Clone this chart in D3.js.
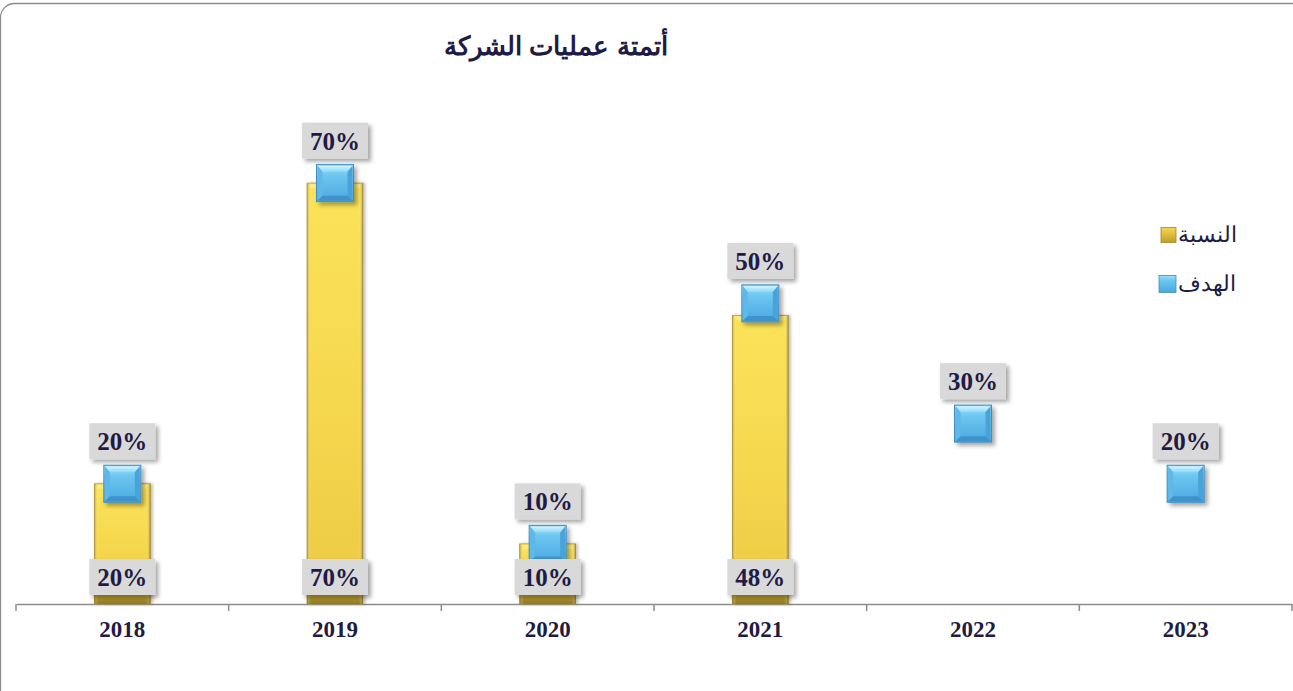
<!DOCTYPE html>
<html><head><meta charset="utf-8">
<script src="https://cdn.jsdelivr.net/npm/d3@7"></script>
<style>html,body{margin:0;padding:0;background:#fff;}svg{display:block;}</style>
</head><body>
<svg id="c" width="1293" height="691"></svg>
<script>
const categories = ["2018","2019","2020","2021","2022","2023"];
const actualValues = [0.20, 0.70, 0.10, 0.48, null, null];
const targetValues = [0.20, 0.70, 0.10, 0.50, 0.30, 0.20];
const titleText = "أتمتة عمليات الشركة";
const seriesNames = ["النسبة", "الهدف"];

const svg = d3.select("#c");
const defs = svg.append("defs");
const textColor = "#1f1b45";

const gBar = defs.append("linearGradient").attr("id","gBar").attr("x1",0).attr("y1",0).attr("x2",0).attr("y2",1);
[["0%","#fbe35a"],["50%","#f6d84e"],["100%","#ecc943"]].forEach(s=>gBar.append("stop").attr("offset",s[0]).attr("stop-color",s[1]));
const gBarH = defs.append("linearGradient").attr("id","gBarH").attr("x1",0).attr("y1",0).attr("x2",1).attr("y2",0);
[["0%","#9a7e1a",0.6],["7%","#ffffff",0],["93%","#ffffff",0],["100%","#7a6412",0.7]].forEach(s=>gBarH.append("stop").attr("offset",s[0]).attr("stop-color",s[1]).attr("stop-opacity",s[2]));
const gBarB = defs.append("linearGradient").attr("id","gBarB").attr("x1",0).attr("y1",0).attr("x2",0).attr("y2",1);
[["0%","#b89a30",0],["40%","#b09530",0.8],["100%","#8e7722",1]].forEach(s=>gBarB.append("stop").attr("offset",s[0]).attr("stop-color",s[1]).attr("stop-opacity",s[2]));

const gMk = defs.append("linearGradient").attr("id","gMk").attr("x1",0).attr("y1",0).attr("x2",0).attr("y2",1);
[["0%","#9ee0fa"],["30%","#6cc6f0"],["100%","#4aa8e0"]].forEach(s=>gMk.append("stop").attr("offset",s[0]).attr("stop-color",s[1]));
const gMkTop = defs.append("linearGradient").attr("id","gMkTop").attr("x1",0).attr("y1",0).attr("x2",0).attr("y2",1);
[["0%","#d4f3ff"],["100%","#8fd8f6"]].forEach(s=>gMkTop.append("stop").attr("offset",s[0]).attr("stop-color",s[1]));

const gLeg1 = defs.append("linearGradient").attr("id","gLeg1").attr("x1",0).attr("y1",0).attr("x2",0).attr("y2",1);
[["0%","#f5d850"],["100%","#c29e28"]].forEach(s=>gLeg1.append("stop").attr("offset",s[0]).attr("stop-color",s[1]));

const sh = defs.append("filter").attr("id","sh").attr("x","-30%").attr("y","-30%").attr("width","160%").attr("height","170%");
sh.append("feDropShadow").attr("dx",3).attr("dy",3).attr("stdDeviation",2.2).attr("flood-color","#000").attr("flood-opacity",0.35);
const shB = defs.append("filter").attr("id","shB").attr("x","-20%").attr("y","-5%").attr("width","140%").attr("height","110%");
shB.append("feDropShadow").attr("dx",2).attr("dy",0).attr("stdDeviation",1.5).attr("flood-color","#000").attr("flood-opacity",0.25);

svg.append("rect").attr("x",0.5).attr("y",3.5).attr("width",1310).attr("height",720).attr("rx",14)
  .attr("fill","#fff").attr("stroke","#8c8c8c").attr("stroke-width",1.3);

const x = d3.scaleBand().domain(categories).range([16,1292]).padding(0);
const y = d3.scaleLinear().domain([0,0.8]).range([604,123]);

svg.append("text").attr("x",556).attr("y",55).attr("text-anchor","middle")
  .attr("font-family","Liberation Sans, Arial, sans-serif").attr("font-weight","bold").attr("font-size",26)
  .attr("fill",textColor).text(titleText);

const axis = d3.axisBottom(x).tickSize(0).tickFormat(d=>d);
const ax = svg.append("g").attr("transform","translate(0,604)").call(axis);
ax.select(".domain").attr("stroke","#8c8c8c").attr("stroke-width",1.5);
ax.selectAll(".tick text").attr("font-family","Liberation Serif, Times New Roman, serif").attr("font-weight","bold")
  .attr("font-size",23).attr("fill",textColor).attr("dy","1.3em");
const bounds = categories.map(c=>x(c)).concat([x(categories[categories.length-1])+x.bandwidth()]);
svg.append("g").selectAll("line").data(bounds).join("line")
  .attr("x1",d=>d).attr("x2",d=>d).attr("y1",604).attr("y2",611).attr("stroke","#8c8c8c").attr("stroke-width",1.5);

const barW = 56;
const barData = categories.map((c,i)=>({c, v:actualValues[i]})).filter(d=>d.v!=null);
const bx = d=>x(d.c)+x.bandwidth()/2-barW/2;
const bars = svg.append("g");
bars.selectAll("rect.b").data(barData).join("rect").attr("class","b")
  .attr("x",bx).attr("width",barW)
  .attr("y",d=>y(d.v)).attr("height",d=>y(0)-y(d.v)).attr("fill","url(#gBar)")
  .attr("stroke","#b89a36").attr("stroke-width",0.8).attr("filter","url(#shB)");
bars.selectAll("rect.bb").data(barData).join("rect").attr("class","bb")
  .attr("x",bx).attr("width",barW)
  .attr("y",y(0)-14).attr("height",14).attr("fill","url(#gBarB)");
bars.selectAll("rect.h").data(barData).join("rect").attr("class","h")
  .attr("x",bx).attr("width",barW)
  .attr("y",d=>y(d.v)).attr("height",d=>y(0)-y(d.v)).attr("fill","url(#gBarH)");
bars.selectAll("rect.t").data(barData).join("rect").attr("class","t")
  .attr("x",d=>bx(d)+3).attr("width",barW-6)
  .attr("y",d=>y(d.v)+1).attr("height",4).attr("fill","#fdeb8c").attr("opacity",0.8);

const fmt = d3.format(".0%");
function label(g, cx, top, txt){
  const w=66,h=36;
  g.append("rect").attr("x",cx-w/2).attr("y",top).attr("width",w).attr("height",h)
    .attr("fill","#d9d9d9").attr("filter","url(#sh)");
  g.append("text").attr("x",cx).attr("y",top+h/2+9).attr("text-anchor","middle")
    .attr("font-family","Liberation Serif, Times New Roman, serif").attr("font-weight","bold")
    .attr("font-size",25).attr("fill",textColor).text(txt);
}
const labG = svg.append("g");
barData.forEach(d=>label(labG, x(d.c)+x.bandwidth()/2, 559, fmt(d.v)));

const mk = 37;
const mkG = svg.append("g");
categories.forEach((c,i)=>{
  const v = targetValues[i]; if(v==null) return;
  const cx = x(c)+x.bandwidth()/2, cy = y(v);
  const g = mkG.append("g").attr("transform",`translate(${cx-mk/2},${cy-mk/2})`);
  g.append("rect").attr("width",mk).attr("height",mk).attr("fill","url(#gMk)").attr("stroke","#3f8fc4").attr("stroke-width",1).attr("filter","url(#sh)");
  g.append("path").attr("d",`M1,1 L${mk-1},1 L${mk-6},7 L6,7 Z`).attr("fill","url(#gMkTop)");
  g.append("path").attr("d",`M1,1 L6,7 L6,${mk-6} L1,${mk-1} Z`).attr("fill","#5fb8e8");
  g.append("path").attr("d",`M${mk-1},1 L${mk-6},7 L${mk-6},${mk-6} L${mk-1},${mk-1} Z`).attr("fill","#4aa3d8");
  g.append("path").attr("d",`M1,${mk-1} L6,${mk-6} L${mk-6},${mk-6} L${mk-1},${mk-1} Z`).attr("fill","#3f93cc");
  label(labG, cx, cy-mk/2-42, fmt(v));
});
labG.raise();

const leg = svg.append("g");
const legItems = [{name:seriesNames[0], y:235, fill:"url(#gLeg1)", st:"#a8871e"},{name:seriesNames[1], y:284, fill:"url(#gMk)", st:"#3f8fc4"}];
legItems.forEach((d,i)=>{
  const s = i===0?15:17;
  leg.append("rect").attr("x",1176-s).attr("y",d.y-s/2).attr("width",s).attr("height",s).attr("fill",d.fill).attr("stroke",d.st).attr("stroke-width",0.8);
  leg.append("text").attr("x",1178).attr("y",d.y+7).attr("text-anchor","start")
    .attr("font-family","Liberation Sans, Arial, sans-serif").attr("font-size",22).attr("fill",textColor).text(d.name);
});
</script>
</body></html>
